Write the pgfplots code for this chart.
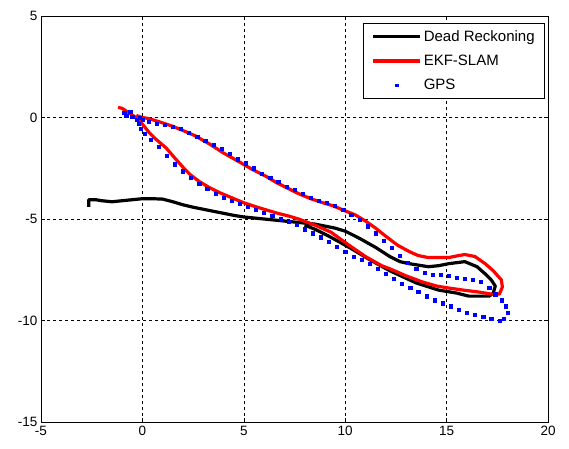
\documentclass[border=0pt]{standalone}
\usepackage{pgfplots}
\pgfplotsset{compat=1.18}
\usepackage{fontspec}
\setmainfont{Liberation Sans}
\pgfplotsset{
  lineleg/.style={legend image code/.code={\draw[##1] (0pt,0pt) -- (47pt,0pt);}},
  markleg/.style={legend image code/.code={\draw[##1, mark size=1.2pt] plot coordinates {(23.5pt,0pt)};}},
}
\begin{document}
\begin{tikzpicture}
\useasboundingbox (-41pt,-26pt) rectangle (528pt,422pt);
\begin{axis}[
  at={(0,0)}, anchor=south west,
  scale only axis, width=507pt, height=406pt,
  xmin=-5, xmax=20, ymin=-15, ymax=5,
  xtick={-5,0,5,10,15,20}, ytick={-15,-10,-5,0,5},
  tick align=inside, major tick length=4pt,
  grid=major, major grid style={black, line width=0.6pt, dash pattern=on 3pt off 3pt},
  axis line style={black, line width=0.6pt},
  tick style={black, line width=0.6pt},
  /pgf/number format/assume math mode=true,
  tick label style={font=\fontsize{13.5}{15}\selectfont},
  xticklabel style={yshift=-0.5pt},
  yticklabel style={xshift=0pt},
  legend style={at={(0.994,0.983)}, anchor=north east, draw=black, line width=0.6pt,
    font=\fontsize{15}{17}\selectfont, row sep=7pt, inner xsep=8pt, inner ysep=5pt,
    cells={anchor=west}, nodes={inner ysep=2.5pt}},
  legend cell align=left,
]
\addplot[black, line width=3.2pt, line join=round, lineleg] coordinates {
(-2.65,-4.4) (-2.65,-4.05) (-2.3,-4.05) (-2.0,-4.1) (-1.5,-4.15) (-1.0,-4.1) (-0.5,-4.05) (0,-4.0) (0.5,-4.0) (1.0,-4.02) (1.5,-4.15) (2.0,-4.3) (2.5,-4.42) (3.0,-4.52) (3.5,-4.62) (4.0,-4.72) (4.5,-4.82) (5.0,-4.9) (5.5,-4.95) (6.0,-5.0) (6.5,-5.05) (7.0,-5.1) (7.5,-5.15) (8.0,-5.2) (8.5,-5.25) (9.0,-5.35) (9.5,-5.45) (10.0,-5.6) (10.7,-5.95) (11.5,-6.4) (12.2,-6.85) (12.7,-7.1) (13.15,-7.2) (14.1,-7.35) (14.6,-7.3) (15.1,-7.2) (15.9,-7.1) (16.5,-7.35) (16.9,-7.7) (17.2,-8.0) (17.4,-8.3) (17.3,-8.65) (17.1,-8.8) (16.1,-8.8) (15.5,-8.65) (14.6,-8.5) (13.5,-8.15) (12.2,-7.55) (11.2,-7.0) (10.2,-6.4) (9.2,-5.85) (8.5,-5.5) (8.0,-5.3)
};
\addlegendentry{Dead Reckoning}
\addplot[red, line width=3.2pt, line join=round, lineleg] coordinates {
(-1.2,0.5) (-1.0,0.45) (-0.7,0.25) (-0.4,0.05) (-0.15,-0.15) (0.1,-0.45) (0.34,-0.75) (0.7,-1.1) (1.17,-1.5) (1.6,-2.0) (2.0,-2.45) (2.4,-2.85) (2.8,-3.15) (3.3,-3.45) (3.8,-3.7) (4.4,-3.95) (5.0,-4.2) (5.6,-4.4) (6.1,-4.55) (6.6,-4.7) (7.2,-4.85) (7.7,-5.0) (8.5,-5.3) (9.3,-5.65) (10.2,-6.3) (11.0,-6.85) (11.8,-7.3) (12.2,-7.45) (13.0,-7.8) (13.8,-8.1) (14.5,-8.3) (15.1,-8.4) (15.8,-8.5) (16.6,-8.6) (17.2,-8.7) (17.6,-8.7) (17.75,-8.35) (17.7,-8.0) (17.3,-7.55) (16.9,-7.2) (16.4,-6.85) (15.9,-6.75) (15.5,-6.82) (15.1,-6.9) (14.1,-6.9) (13.6,-6.8) (13.15,-6.6) (12.6,-6.3) (12.0,-5.85) (11.5,-5.45) (11.0,-5.1) (10.5,-4.8) (10.0,-4.6) (9.4,-4.35) (8.9,-4.2) (8.3,-4.0) (7.7,-3.75) (7.2,-3.5) (6.6,-3.2) (6.1,-2.9) (5.4,-2.55) (4.8,-2.2) (4.0,-1.75) (3.3,-1.3) (2.6,-0.9) (2.0,-0.64) (1.4,-0.4) (0.8,-0.2) (0.3,-0.05) (0,0) (-0.3,0.1)
};
\addlegendentry{EKF-SLAM}
\addplot[only marks, blue, mark=square*, mark size=1.6pt, mark options={draw=blue, fill=blue}, markleg] coordinates {
(-0.9,0.25) (-0.8,0.1) (-0.6,0.3) (-0.5,0.05) (-0.3,-0.1) (-0.15,0.0) (0.0,-0.1)
(0.3,-0.2) (0.7,-0.3) (1.1,-0.35) (1.5,-0.45) (1.9,-0.55) (2.3,-0.75) (2.7,-0.95) (3.1,-1.15) (3.5,-1.35) (3.9,-1.55) (4.3,-1.8) (4.7,-2.05) (5.1,-2.25) (5.5,-2.5) (5.9,-2.75) (6.3,-2.95) (6.7,-3.15) (7.1,-3.4) (7.5,-3.55) (7.9,-3.75) (8.3,-3.95) (8.7,-4.1) (9.1,-4.2) (9.5,-4.35) (9.9,-4.55) (10.3,-4.8) (10.7,-5.05) (11.1,-5.35) (11.5,-5.7) (11.9,-6.05) (12.3,-6.4) (12.7,-6.8) (13.1,-7.15) (13.5,-7.45) (13.9,-7.65) (14.3,-7.75) (14.7,-7.75) (15.1,-7.8) (15.5,-7.9) (15.9,-7.95) (16.3,-8.0) (16.7,-8.1) (17.1,-8.4) (17.4,-8.7) (17.7,-9.0) (17.9,-9.3) (18.0,-9.6) (17.8,-9.9) (17.6,-10.0) (17.2,-9.9) (16.8,-9.8) (16.4,-9.7) (16.0,-9.6) (15.6,-9.45) (15.2,-9.3) (14.8,-9.15) (14.4,-9.0) (14.0,-8.8) (13.6,-8.6) (13.2,-8.4) (12.8,-8.2) (12.4,-7.95) (12.0,-7.7) (11.6,-7.45) (11.2,-7.2) (10.8,-7.0) (10.4,-6.85) (10.0,-6.6) (9.6,-6.35) (9.2,-6.1) (8.8,-5.9) (8.4,-5.7) (8.0,-5.5) (7.6,-5.3) (7.2,-5.15) (6.8,-5.0) (6.4,-4.85) (6.0,-4.7) (5.6,-4.55) (5.2,-4.4) (4.8,-4.25) (4.4,-4.1) (4.0,-3.95) (3.6,-3.75) (3.2,-3.5) (2.8,-3.25) (2.4,-2.95) (2.0,-2.65) (1.6,-2.3) (1.2,-1.9) (0.8,-1.45) (0.4,-1.1) (0.1,-0.8) (-0.1,-0.55) (-0.2,-0.3)
};
\addlegendentry{GPS}
\end{axis}
\end{tikzpicture}
\end{document}
